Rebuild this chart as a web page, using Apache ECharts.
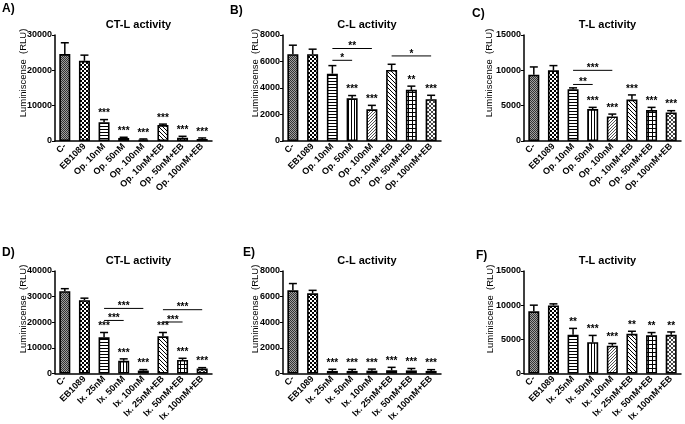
<!DOCTYPE html>
<html>
<head>
<meta charset="utf-8">
<script src="https://cdn.jsdelivr.net/npm/echarts@6/dist/echarts.min.js"></script>
<style>
  html, body { margin: 0; padding: 0; background: #fff; }
  #chart { width: 685px; height: 424px; }
</style>
</head>
<body>
<div id="chart"></div>
<script>
// categories
var catsOp = ['C-', 'EB1089', 'Op. 10nM', 'Op. 50nM', 'Op. 100nM', 'Op. 10nM+EB', 'Op. 50nM+EB', 'Op. 100nM+EB'];
var catsIx = ['C-', 'EB1089', 'Ix. 25nM', 'Ix. 50nM', 'Ix. 100nM', 'Ix. 25nM+EB', 'Ix. 50nM+EB', 'Ix. 100nM+EB'];

// A) CT-L, oprozomib
var valA = [24600, 22700, 5300, 860, 380, 4500, 950, 570];
var errA = [3200, 1600, 760, 200, 200, 280, 380, 290];
var starA = ['', '', '***', '***', '***', '***', '***', '***'];
var brkA = [];

// B) C-L, oprozomib
var valB = [6550, 6550, 5080, 3220, 2390, 5360, 3860, 3150];
var errB = [680, 380, 610, 210, 300, 430, 280, 300];
var starB = ['', '', '', '***', '***', '', '**', '***'];
var brkB = [[2, 3, 6090, '*'], [2, 4, 6980, '**'], [5, 7, 6420, '*']];

// C) T-L, oprozomib
var valC = [9380, 10000, 7330, 4520, 3480, 5860, 4380, 4050];
var errC = [1100, 670, 190, 240, 330, 660, 380, 240];
var starC = ['', '', '', '***', '***', '***', '***', '***'];
var brkC = [[2, 3, 8000, '**'], [2, 4, 10000, '***']];

// D) CT-L, ixazomib
var valD = [32100, 28600, 14100, 4950, 1140, 14500, 5300, 1900];
var errD = [1000, 800, 1900, 760, 380, 1500, 630, 380];
var starD = ['', '', '***', '***', '***', '***', '***', '***'];
var brkD = [[2, 3, 20700, '***'], [2, 4, 25400, '***'], [5, 6, 20100, '***'], [5, 7, 24900, '***']];

// E) C-L, ixazomib
var valE = [6490, 6260, 200, 200, 220, 250, 240, 200];
var errE = [530, 230, 130, 120, 120, 230, 150, 100];
var starE = ['', '', '***', '***', '***', '***', '***', '***'];
var brkE = [];

// F) T-L, ixazomib
var valF = [9100, 9950, 5660, 4580, 4060, 5800, 5610, 5660];
var errF = [900, 240, 940, 990, 330, 380, 380, 420];
var starF = ['', '', '**', '***', '***', '**', '**', '**'];
var brkF = [];

var yMax = [30000, 8000, 15000, 40000, 8000, 15000];
var yStep = [10000, 2000, 5000, 10000, 2000, 5000];
var titles = ['CT-L activity', 'C-L activity', 'T-L activity', 'CT-L activity', 'C-L activity', 'T-L activity'];
var letters = ['A)', 'B)', 'C)', 'D)', 'E)', 'F)'];

var FONT = '"Liberation Sans", Arial, sans-serif';

// bar fill patterns drawn pixel by pixel
function pattern(size, bg, fg, pix) {
  var c = document.createElement('canvas');
  c.width = c.height = size;
  var ctx = c.getContext('2d');
  ctx.fillStyle = bg;
  ctx.fillRect(0, 0, size, size);
  ctx.fillStyle = fg;
  for (var y = 0; y < size; y++) {
    for (var x = 0; x < size; x++) {
      if (pix(x, y, size)) ctx.fillRect(x, y, 1, 1);
    }
  }
  return { image: c, repeat: 'repeat' };
}
var fills = [
  pattern(2, '#a0a0a0', '#333', function (x, y) { return (x + y) % 2 === 0; }),
  pattern(4, '#fff', '#000', function (x, y) { return (x < 2) === (y < 2); }),
  pattern(3, '#fff', '#000', function (x, y) { return y === 0; }),
  pattern(3, '#fff', '#000', function (x, y) { return x === 0; }),
  pattern(3, '#fff', '#555', function (x, y, s) { return (x + y) % s === 0; }),
  pattern(4, '#fff', '#000', function (x, y, s) { return x === y; }),
  pattern(4, '#fff', '#000', function (x, y) { return x === 0 || y === 0; }),
  pattern(4, '#fff', '#444', function (x, y, s) { return x === y || x === s - 1 - y; })
];

var panels = [
  { cats: catsOp, val: valA, err: errA, star: starA, brk: brkA },
  { cats: catsOp, val: valB, err: errB, star: starB, brk: brkB },
  { cats: catsOp, val: valC, err: errC, star: starC, brk: brkC },
  { cats: catsIx, val: valD, err: errD, star: starD, brk: brkD },
  { cats: catsIx, val: valE, err: errE, star: starE, brk: brkE },
  { cats: catsIx, val: valF, err: errF, star: starF, brk: brkF }
];

// layout of the six plots
var lefts = [55, 283, 524];
var widths = [157, 158, 157];
var tops = [35, 271];
var nameGaps = [28, 24, 31, 28, 24, 30];
var letterPos = [[2, 9], [230, 11], [472, 14], [2, 253], [243, 253], [476, 256]];

var grids = [], xAxes = [], yAxes = [], series = [], titleList = [], graphics = [];

panels.forEach(function (p, k) {
  var col = k % 3, row = Math.floor(k / 3);
  grids.push({ left: lefts[col], top: tops[row], width: widths[col], height: 106 });
  titleList.push({
    text: titles[k], left: lefts[col] + widths[col] / 2, top: tops[row] - 21, textAlign: 'center',
    textStyle: { fontFamily: FONT, fontSize: 11, fontWeight: 'bold', color: '#000' }
  });
  graphics.push({
    type: 'text', x: letterPos[k][0], y: letterPos[k][1],
    style: { text: letters[k], font: 'bold 12px ' + FONT, fill: '#000', textVerticalAlign: 'middle' }
  });
  graphics.push({
    type: 'text', rotation: Math.PI / 2,
    x: lefts[col] - nameGaps[k] - 4, y: tops[row] + 38,
    style: { text: 'Luminiscense  (RLU)', font: '9.5px ' + FONT, fill: '#000', textAlign: 'center', textVerticalAlign: 'middle' }
  });
  xAxes.push({
    gridIndex: k, type: 'category', data: p.cats,
    axisLine: { lineStyle: { color: '#000', width: 1.5 } },
    axisTick: { alignWithLabel: true, length: 3, lineStyle: { color: '#000', width: 1 } },
    axisLabel: { interval: 0, rotate: 45, margin: 4, fontFamily: FONT, fontSize: 9, fontWeight: 'bold', color: '#000' }
  });
  yAxes.push({
    gridIndex: k, type: 'value', min: 0, max: yMax[k], interval: yStep[k],
    axisLine: { show: true, lineStyle: { color: '#000', width: 1.5 } },
    axisTick: { show: true, length: 3, lineStyle: { color: '#000', width: 1 } },
    axisLabel: { margin: 3, fontFamily: FONT, fontSize: 9, fontWeight: 'bold', color: '#000', formatter: function (v) { return String(v); } },
    splitLine: { show: false }
  });

  series.push({
    type: 'bar', xAxisIndex: k, yAxisIndex: k, barWidth: 11,
    data: p.val.map(function (v, i) {
      return { value: v, itemStyle: { color: fills[i], borderColor: '#000', borderWidth: 1.6 } };
    }),
    emphasis: { disabled: true }
  });

  // one-sided error bars
  series.push({
    type: 'custom', xAxisIndex: k, yAxisIndex: k, z: 3,
    data: p.val.map(function (v, i) { return [i, v, p.err[i]]; }),
    renderItem: function (params, api) {
      var i = api.value(0), v = api.value(1), e = api.value(2);
      var a = api.coord([i, v]), b = api.coord([i, v + e]);
      var st = { stroke: '#000', lineWidth: 1.5 };
      return {
        type: 'group', children: [
          { type: 'line', shape: { x1: a[0], y1: a[1], x2: b[0], y2: b[1] }, style: st },
          { type: 'line', shape: { x1: b[0] - 4, y1: b[1], x2: b[0] + 4, y2: b[1] }, style: st }
        ]
      };
    }
  });

  // significance stars above bars
  series.push({
    type: 'custom', xAxisIndex: k, yAxisIndex: k, z: 4,
    data: p.val.map(function (v, i) { return [i, v + p.err[i]]; }),
    renderItem: function (params, api) {
      var pt = api.coord([api.value(0), api.value(1)]);
      return {
        type: 'text', x: pt[0], y: pt[1] - 1,
        style: { text: p.star[params.dataIndex], font: 'bold 10px ' + FONT, fill: '#000', textAlign: 'center', textVerticalAlign: 'bottom' }
      };
    }
  });

  // comparison brackets
  if (p.brk.length) {
    series.push({
      type: 'custom', xAxisIndex: k, yAxisIndex: k, z: 4,
      data: p.brk.map(function (b) { return [b[0], b[1], b[2]]; }),
      renderItem: function (params, api) {
        var a = api.coord([api.value(0), api.value(2)]);
        var b = api.coord([api.value(1), api.value(2)]);
        return {
          type: 'group', children: [
            { type: 'line', shape: { x1: a[0], y1: a[1], x2: b[0], y2: b[1] }, style: { stroke: '#000', lineWidth: 1 } },
            { type: 'text', x: (a[0] + b[0]) / 2, y: a[1] + 3,
              style: { text: p.brk[params.dataIndex][3], font: 'bold 10px ' + FONT, fill: '#000', textAlign: 'center', textVerticalAlign: 'bottom' } }
          ]
        };
      }
    });
  }
});

var chart = echarts.init(document.getElementById('chart'), null, { renderer: 'canvas' });
chart.setOption({
  animation: false,
  backgroundColor: '#fff',
  title: titleList,
  grid: grids,
  xAxis: xAxes,
  yAxis: yAxes,
  series: series,
  graphic: graphics
});
</script>
</body>
</html>
